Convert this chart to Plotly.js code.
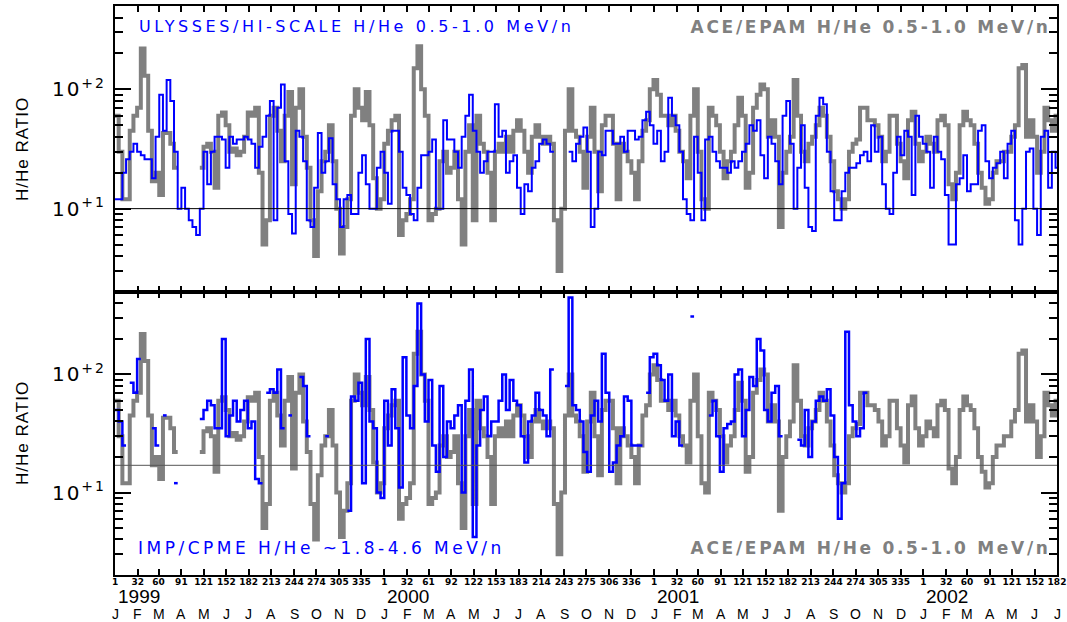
<!DOCTYPE html>
<html><head><meta charset="utf-8">
<script src="https://cdn.plot.ly/plotly-3.0.1.min.js"></script>
<style>html,body{margin:0;padding:0;background:#fff;}#chart{width:1067px;height:622px;}</style>
</head><body><div id="chart"></div>
<script>
// 5-day bins starting 1999-01-01 (day 0)
const binDays = 5;
const endDay = 1277; // 2002-07-01

// ACE/EPAM H/He 0.5-1.0 MeV/n (same in both panels)
const ace = [60,30,12,12,45,60,70,220,130,45,
17,20,13,43,43,35,22,null,null,null,
null,null,null,22,33,35,30,15,60,64,
50,30,32,28,30,40,64,60,70,20,
5,8,60,70,45,25,60,95,16,70,
100,40,22,8,4,14,25,30,50,25,
10,4.2,7,12,60,100,70,55,95,50,
18,10,12,35,45,55,60,6,8,9,
12,150,230,100,60,8,9,10,25,30,
20,22,30,12,5,30,50,8,60,35,
30,20,8,30,35,30,40,30,45,55,
45,30,20,40,50,40,35,40,35,8,
3,10,45,100,45,40,30,15,40,70,
30,14,50,60,60,35,12,35,30,25,
20,12,25,45,55,100,120,90,60,60,
50,60,45,30,25,18,60,100,30,12,
10,70,60,50,30,18,25,30,50,85,
60,15,20,70,90,110,100,40,55,40,
7,20,30,40,120,60,30,25,35,40,
50,70,60,40,25,14,12,10,12,30,
35,38,70,70,55,55,50,40,25,30,
60,60,35,25,18,55,65,35,25,30,
40,35,30,55,60,50,16,12,20,50,
65,55,50,35,20,15,11,12,20,25,
25,30,30,40,50,150,160,40,55,40,
20,30,70,55,45,60];

// ULYSSES/HI-SCALE H/He 0.5-1.0 MeV/n
const ulysses = [12,12,20,26,30,35,30,28,26,26,
18,40,90,45,120,80,30,10,15,10,
8,7,6,10,30,16,30,40,40,38,
22,40,35,38,38,40,38,35,22,33,
40,60,80,8,70,110,25,9,6.2,45,
40,25,8,7,15,43,20,25,39,16,
12,7,12,13,9,9,20,28,16,10,
10,22,30,20,11,45,45,30,15,13,
9,8,15,28,28,30,38,10,10,55,
38,38,30,22,40,60,90,45,30,20,
25,30,30,75,40,45,20,25,28,15,
9,16,14,22,25,35,38,35,30,null,
null,null,null,30,25,35,40,48,30,7,
10,30,28,45,45,35,35,40,30,45,
45,38,40,55,65,50,35,45,25,30,
85,60,50,30,12,9,8,40,20,8,
38,40,30,25,22,22,20,25,22,25,
30,35,50,45,55,28,18,40,35,25,
16,60,80,35,10,22,50,15,7,6.5,
60,85,75,30,14,8,8,14,20,22,
22,24,28,30,25,50,30,40,16,10,
9,20,40,28,45,40,13,60,40,35,
30,15,40,30,26,13,5,5,16,18,
28,14,16,16,45,50,25,18,22,24,
30,18,35,45,8,5,10,30,32,10,
6,40,45,15,30,22];

// IMP/CPME H/He ~1.8-4.6 MeV/n
const imp = [50,40,25,null,85,70,135,null,null,null,
35,25,null,45,null,null,12,null,null,null,
null,null,null,42,50,60,55,35,35,200,
30,45,60,40,50,60,35,40,13,12,
null,70,75,70,110,35,null,45,null,null,
95,80,30,null,null,null,null,30,null,null,
null,null,null,7,65,60,85,12,200,40,
35,10,9,60,25,75,35,11,140,45,
35,80,400,100,40,90,25,15,80,20,
40,35,45,55,10,60,110,4.2,25,50,
65,30,40,40,60,100,50,90,60,55,
30,18,40,45,70,50,45,30,110,null,
null,null,80,450,55,50,40,22,15,45,
60,40,150,70,15,18,25,30,65,60,
25,25,25,null,70,140,150,120,90,60,
100,30,40,25,null,null,310,null,null,null,
null,45,60,30,15,35,38,40,100,110,
30,50,95,80,200,160,50,40,70,80,
30,null,null,null,null,28,25,50,20,40,
60,65,60,75,45,20,6,12,230,55,
40,30,35,70];

const dayLabels = ['1','32','60','91','121','152','182','213','244','274','305','335',
'1','32','61','92','122','153','183','214','243','275','306','336',
'1','32','60','91','121','152','182','213','244','274','305','335',
'1','32','60','91','121','152','182'];
const monthLetters = ['J','F','M','A','M','J','J','A','S','O','N','D'];
const years = [1999,2000,2001,2002];

const t0 = Date.UTC(1999,0,1);
const dayOf = (y,m)=> (Date.UTC(y,m,1)-t0)/86400000;
const monthTicks = [];
for (let k=0;k<dayLabels.length;k++){ monthTicks.push(dayOf(1999+Math.floor(k/12), k%12)); }

function stepXY(vals){
  const xs=[], ys=[];
  vals.forEach((v,i)=>{
    const a=i*binDays, b=Math.min((i+1)*binDays,endDay);
    if(v==null){ xs.push(a); ys.push(null); }
    else { xs.push(a,b); ys.push(v,v); }
  });
  return {x:xs,y:ys};
}

const GRAY='#808080', BLUE='#0000ff';
const aceS=stepXY(ace), ulyS=stepXY(ulysses), impS=stepXY(imp);
const traces=[
  {x:aceS.x,y:aceS.y,xaxis:'x2',yaxis:'y',mode:'lines',line:{color:GRAY,width:4},connectgaps:false,hoverinfo:'skip'},
  {x:ulyS.x,y:ulyS.y,xaxis:'x2',yaxis:'y',mode:'lines',line:{color:BLUE,width:2},connectgaps:false,hoverinfo:'skip'},
  {x:aceS.x,y:aceS.y,xaxis:'x',yaxis:'y2',mode:'lines',line:{color:GRAY,width:4},connectgaps:false,hoverinfo:'skip'},
  {x:impS.x,y:impS.y,xaxis:'x',yaxis:'y2',mode:'lines',line:{color:BLUE,width:2.5},connectgaps:false,hoverinfo:'skip'}
];

const minorVals=[2,3,4,5,6,7,8,9,20,30,40,50,60,70,80,90,200,300,400,500];
const yCommon={type:'log',range:[Math.log10(2),Math.log10(500)],tickvals:[10,100],
  ticktext:['10<sup>+1</sup>','10<sup>+2</sup>'],ticks:'inside',ticklen:16,tickwidth:2,tickcolor:'#000',
  mirror:'ticks',showline:true,linewidth:2,linecolor:'#000',showgrid:false,zeroline:false,
  ticklabelstandoff:3,
  tickfont:{family:'DejaVu Sans, sans-serif',size:20,color:'#000'},
  minor:{tickvals:minorVals,ticks:'inside',ticklen:8,tickwidth:2,tickcolor:'#000',showgrid:false}};
const xCommon={range:[0,endDay],tickmode:'array',tickvals:monthTicks,ticktext:dayLabels,ticks:'inside',
  ticklen:6,tickwidth:2,tickcolor:'#000',mirror:'ticks',showline:true,linewidth:2,linecolor:'#000',
  showgrid:false,zeroline:false,ticklabelstandoff:-3,
  tickfont:{family:'DejaVu Sans, sans-serif',size:9,color:'#000',weight:'bold'}};

const PH=569, PTOP=6;
const py=p=>1-(p-PTOP)/PH;
const px=p=>(p-115)/942;
const split=283/569;

const ann=[];
monthTicks.forEach((d,k)=>ann.push({x:d,xref:'x',y:py(614),yref:'paper',text:monthLetters[k%12],showarrow:false,
  xanchor:'center',yanchor:'middle',font:{family:'Liberation Sans, sans-serif',size:14,color:'#000'}}));
years.forEach(y=>ann.push({x:dayOf(y,0),xref:'x',y:py(596),yref:'paper',text:String(y),showarrow:false,
  xanchor:'left',yanchor:'middle',xshift:1,font:{family:'Liberation Sans, sans-serif',size:19,color:'#000'}}));
ann.push({x:px(22),xref:'paper',y:py(149),yref:'paper',text:'H/He RATIO',textangle:-90,showarrow:false,
  xanchor:'center',yanchor:'middle',font:{family:'Liberation Sans, sans-serif',size:17,color:'#000'}});
ann.push({x:px(22),xref:'paper',y:py(433),yref:'paper',text:'H/He RATIO',textangle:-90,showarrow:false,
  xanchor:'center',yanchor:'middle',font:{family:'Liberation Sans, sans-serif',size:17,color:'#000'}});
ann.push({x:px(356),xref:'paper',y:py(27),yref:'paper',text:'ULYSSES/HI-SCALE H/He 0.5-1.0 MeV/n',
  showarrow:false,xanchor:'center',yanchor:'middle',font:{family:'DejaVu Sans, sans-serif',size:16,color:BLUE}});
ann.push({x:px(870),xref:'paper',y:py(27),yref:'paper',text:'ACE/EPAM H/He 0.5-1.0 MeV/n',
  showarrow:false,xanchor:'center',yanchor:'middle',font:{family:'DejaVu Sans, sans-serif',size:17,color:GRAY,weight:'bold'}});
ann.push({x:px(321),xref:'paper',y:py(548),yref:'paper',text:'IMP/CPME H/He ~1.8-4.6 MeV/n',
  showarrow:false,xanchor:'center',yanchor:'middle',font:{family:'DejaVu Sans, sans-serif',size:17,color:BLUE}});
ann.push({x:px(870),xref:'paper',y:py(548),yref:'paper',text:'ACE/EPAM H/He 0.5-1.0 MeV/n',
  showarrow:false,xanchor:'center',yanchor:'middle',font:{family:'DejaVu Sans, sans-serif',size:17,color:GRAY,weight:'bold'}});

const layout={width:1067,height:622,margin:{l:115,r:10,t:6,b:47},paper_bgcolor:'#fff',plot_bgcolor:'#fff',
  showlegend:false,
  xaxis:Object.assign({},xCommon,{anchor:'y2',domain:[0,1]}),
  xaxis2:Object.assign({},xCommon,{anchor:'y',domain:[0,1],matches:'x',showticklabels:false}),
  yaxis:Object.assign({},yCommon,{anchor:'x2',domain:[split,1]}),
  yaxis2:Object.assign({},yCommon,{anchor:'x',domain:[0,split]}),
  shapes:[
    {type:'line',xref:'paper',x0:0,x1:1,yref:'y',y0:10,y1:10,line:{color:'#000',width:1}},
    {type:'line',xref:'paper',x0:0,x1:1,yref:'y2',y0:17,y1:17,line:{color:'#555',width:1}}
  ],
  annotations:ann};

// wide letter spacing, like the reference's plotter font
const spacing={'ULYSSES/HI-SCALE H/He 0.5-1.0 MeV/n':3.6,'ACE/EPAM H/He 0.5-1.0 MeV/n':2.7,
  'IMP/CPME H/He ~1.8-4.6 MeV/n':3.5,'H/He RATIO':1};
Plotly.newPlot('chart',traces,layout,{staticPlot:true,displayModeBar:false}).then(gd=>{
  gd.querySelectorAll('.annotation-text').forEach(t=>{
    const s=spacing[t.textContent]; if(s!=null) t.style.letterSpacing=s+'px';
  });
  gd.querySelectorAll('.ytick text, g.ytick text, .yaxislayer-above text').forEach(t=>{ t.style.letterSpacing='2px'; });
});
</script></body></html>
